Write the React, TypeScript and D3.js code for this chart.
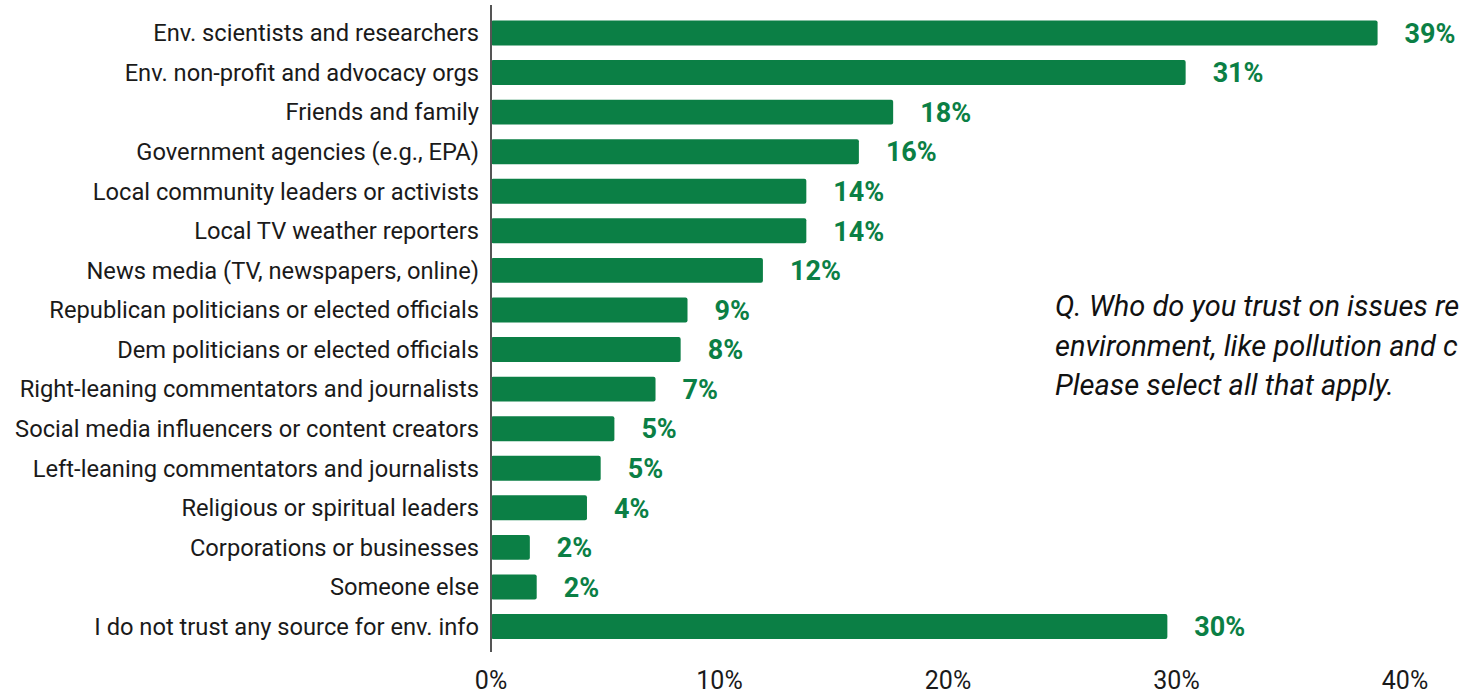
import React from "react";
import * as d3 from "d3";

const categories = [
  "Env. scientists and researchers",
  "Env. non-profit and advocacy orgs",
  "Friends and family",
  "Government agencies (e.g., EPA)",
  "Local community leaders or activists",
  "Local TV weather reporters",
  "News media (TV, newspapers, online)",
  "Republican politicians or elected officials",
  "Dem politicians or elected officials",
  "Right-leaning commentators and journalists",
  "Social media influencers or content creators",
  "Left-leaning commentators and journalists",
  "Religious or spiritual leaders",
  "Corporations or businesses",
  "Someone else",
  "I do not trust any source for env. info",
];
const values = [38.8, 30.4, 17.6, 16.1, 13.8, 13.8, 11.9, 8.6, 8.3, 7.2, 5.4, 4.8, 4.2, 1.7, 2.0, 29.6];
const valueLabels = ["39%", "31%", "18%", "16%", "14%", "14%", "12%", "9%", "8%", "7%", "5%", "5%", "4%", "2%", "2%", "30%"];
const ticks = [0, 10, 20, 30, 40];
const noteLines = [
  "Q. Who do you trust on issues re",
  "environment, like pollution and c",
  "Please select all that apply.",
];

const W = 1459;
const H = 694;
const GREEN = "#0b7f45";

export default function App() {
  const x = d3.scaleLinear().domain([0, 40]).range([491, 1405]);
  const y = d3
    .scaleBand<string>()
    .domain(categories)
    .range([13.2, 646.3])
    .paddingInner(0.37)
    .paddingOuter(0.185);
  const font = "Roboto, 'Open Sans', sans-serif";
  return (
    <svg
      width={W}
      height={H}
      style={{ position: "absolute", left: 0, top: 0, background: "#fff" }}
      fontFamily={font}
    >
      {categories.map((c, i) => {
        const yy = y(c)!;
        const bh = y.bandwidth();
        return (
          <g key={c}>
            <rect
              x={x(0)}
              y={yy}
              width={x(values[i]) - x(0)}
              height={bh}
              rx={2}
              fill={GREEN}
            />
            <text
              x={479}
              y={yy + bh / 2}
              dy="0.35em"
              textAnchor="end"
              fontSize={23.7}
              fill="#1a1a1a"
            >
              {c}
            </text>
            <text
              x={x(values[i]) + 27}
              y={yy + bh / 2}
              dy="0.36em"
              fontSize={27}
              fontWeight={700}
              fill={GREEN}
            >
              {valueLabels[i]}
            </text>
          </g>
        );
      })}
      <line x1={x(0)} x2={x(0)} y1={5} y2={652} stroke="#555" strokeWidth={2} />
      {ticks.map((t) => (
        <text key={t} x={x(t)} y={689} textAnchor="middle" fontSize={25} fill="#1a1a1a">
          {t}%
        </text>
      ))}
      <text x={1055} y={316} fontSize={29} fontStyle="italic" fill="#111">
        {noteLines.map((l, i) => (
          <tspan key={i} x={1055} y={316 + i * 39.5}>
            {l}
          </tspan>
        ))}
      </text>
    </svg>
  );
}
